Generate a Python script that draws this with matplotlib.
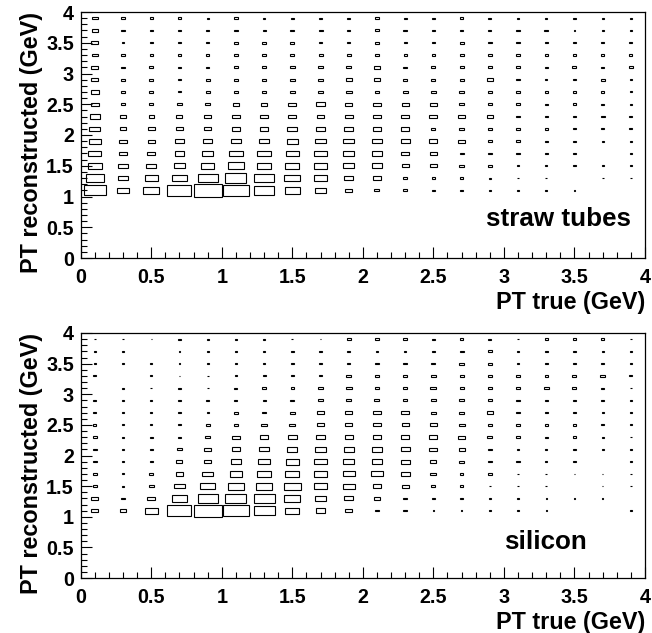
import numpy as np
import matplotlib
matplotlib.use("Agg")
import matplotlib.pyplot as plt
from matplotlib.patches import Rectangle
from matplotlib.ticker import MultipleLocator

plt.rcParams['font.family'] = ['Liberation Sans', 'DejaVu Sans']
plt.rcParams['font.weight'] = 'bold'

# bin edges (x: PT true, y: PT reconstructed)
x_edges = np.linspace(0.0, 4.0, 21)
y_edges = np.linspace(1.0, 4.0, 16)

# relative bin contents (box size fraction), rows from y=1.1 (bottom) to y=3.9 (top)
straw = [
    [0.80, 0.45, 0.56, 0.85, 1.00, 0.94, 0.73, 0.52, 0.38, 0.24, 0.18, 0.14, 0.08, 0.08, 0.06, 0.08, 0.06, 0.05, 0.00, 0.00],
    [0.65, 0.35, 0.47, 0.56, 0.71, 0.75, 0.71, 0.56, 0.45, 0.33, 0.30, 0.16, 0.12, 0.10, 0.08, 0.06, 0.06, 0.00, 0.06, 0.06],
    [0.49, 0.33, 0.35, 0.42, 0.47, 0.54, 0.49, 0.49, 0.47, 0.38, 0.38, 0.26, 0.24, 0.16, 0.14, 0.08, 0.08, 0.08, 0.06, 0.05],
    [0.47, 0.31, 0.28, 0.35, 0.40, 0.47, 0.47, 0.46, 0.45, 0.40, 0.36, 0.28, 0.24, 0.14, 0.14, 0.12, 0.10, 0.08, 0.00, 0.06],
    [0.42, 0.26, 0.24, 0.31, 0.31, 0.35, 0.38, 0.40, 0.38, 0.38, 0.33, 0.33, 0.28, 0.24, 0.16, 0.16, 0.10, 0.08, 0.06, 0.06],
    [0.38, 0.24, 0.24, 0.24, 0.26, 0.31, 0.31, 0.35, 0.31, 0.33, 0.30, 0.30, 0.14, 0.16, 0.16, 0.12, 0.12, 0.10, 0.10, 0.10],
    [0.35, 0.21, 0.19, 0.21, 0.24, 0.26, 0.28, 0.28, 0.28, 0.28, 0.30, 0.30, 0.28, 0.22, 0.20, 0.14, 0.12, 0.10, 0.14, 0.10],
    [0.28, 0.16, 0.16, 0.16, 0.16, 0.21, 0.21, 0.28, 0.31, 0.26, 0.28, 0.26, 0.26, 0.20, 0.15, 0.15, 0.11, 0.13, 0.11, 0.09],
    [0.30, 0.15, 0.15, 0.08, 0.13, 0.16, 0.16, 0.16, 0.16, 0.20, 0.16, 0.18, 0.18, 0.16, 0.14, 0.14, 0.10, 0.10, 0.10, 0.08],
    [0.26, 0.14, 0.14, 0.10, 0.14, 0.14, 0.14, 0.16, 0.16, 0.21, 0.20, 0.14, 0.14, 0.14, 0.22, 0.12, 0.08, 0.12, 0.14, 0.06],
    [0.26, 0.13, 0.16, 0.12, 0.12, 0.14, 0.14, 0.16, 0.18, 0.18, 0.22, 0.12, 0.14, 0.14, 0.14, 0.14, 0.12, 0.14, 0.10, 0.14],
    [0.22, 0.14, 0.09, 0.12, 0.12, 0.12, 0.12, 0.14, 0.14, 0.14, 0.14, 0.10, 0.12, 0.14, 0.14, 0.14, 0.12, 0.12, 0.10, 0.10],
    [0.24, 0.10, 0.12, 0.12, 0.12, 0.14, 0.14, 0.14, 0.12, 0.10, 0.14, 0.10, 0.12, 0.14, 0.12, 0.12, 0.10, 0.10, 0.10, 0.10],
    [0.22, 0.12, 0.12, 0.10, 0.10, 0.12, 0.10, 0.14, 0.14, 0.12, 0.16, 0.12, 0.12, 0.12, 0.10, 0.14, 0.14, 0.06, 0.06, 0.08],
    [0.20, 0.12, 0.12, 0.12, 0.08, 0.12, 0.08, 0.10, 0.10, 0.10, 0.12, 0.10, 0.10, 0.12, 0.10, 0.08, 0.08, 0.08, 0.08, 0.08],
]

silicon = [
    [0.26, 0.19, 0.47, 0.85, 1.00, 0.94, 0.75, 0.49, 0.35, 0.24, 0.14, 0.12, 0.06, 0.06, 0.05, 0.05, 0.05, 0.00, 0.00, 0.05],
    [0.26, 0.12, 0.28, 0.54, 0.71, 0.75, 0.75, 0.56, 0.42, 0.33, 0.21, 0.14, 0.12, 0.12, 0.05, 0.06, 0.05, 0.05, 0.05, 0.00],
    [0.16, 0.10, 0.19, 0.38, 0.52, 0.56, 0.59, 0.59, 0.49, 0.42, 0.31, 0.26, 0.14, 0.12, 0.06, 0.06, 0.06, 0.00, 0.05, 0.05],
    [0.16, 0.10, 0.14, 0.28, 0.38, 0.45, 0.49, 0.49, 0.49, 0.42, 0.40, 0.31, 0.21, 0.12, 0.12, 0.06, 0.06, 0.06, 0.05, 0.06],
    [0.14, 0.08, 0.10, 0.21, 0.26, 0.38, 0.40, 0.47, 0.45, 0.40, 0.38, 0.33, 0.21, 0.18, 0.14, 0.12, 0.08, 0.08, 0.00, 0.06],
    [0.14, 0.10, 0.12, 0.16, 0.26, 0.31, 0.33, 0.35, 0.38, 0.35, 0.35, 0.31, 0.28, 0.21, 0.14, 0.10, 0.08, 0.08, 0.08, 0.05],
    [0.12, 0.08, 0.10, 0.10, 0.18, 0.26, 0.28, 0.31, 0.31, 0.28, 0.28, 0.28, 0.28, 0.26, 0.18, 0.16, 0.10, 0.12, 0.08, 0.06],
    [0.11, 0.08, 0.08, 0.10, 0.14, 0.16, 0.21, 0.21, 0.24, 0.26, 0.26, 0.24, 0.24, 0.21, 0.16, 0.12, 0.12, 0.11, 0.09, 0.07],
    [0.10, 0.08, 0.08, 0.08, 0.08, 0.16, 0.12, 0.18, 0.24, 0.24, 0.26, 0.28, 0.16, 0.16, 0.20, 0.12, 0.12, 0.12, 0.08, 0.06],
    [0.10, 0.08, 0.08, 0.08, 0.12, 0.10, 0.10, 0.14, 0.16, 0.16, 0.18, 0.16, 0.16, 0.16, 0.16, 0.12, 0.12, 0.12, 0.10, 0.06],
    [0.00, 0.08, 0.06, 0.08, 0.06, 0.10, 0.12, 0.12, 0.18, 0.20, 0.14, 0.16, 0.21, 0.14, 0.14, 0.14, 0.16, 0.14, 0.10, 0.06],
    [0.10, 0.00, 0.08, 0.05, 0.06, 0.08, 0.10, 0.10, 0.10, 0.16, 0.12, 0.14, 0.20, 0.14, 0.14, 0.12, 0.12, 0.14, 0.16, 0.10],
    [0.05, 0.06, 0.06, 0.05, 0.08, 0.08, 0.08, 0.12, 0.10, 0.10, 0.14, 0.12, 0.14, 0.16, 0.16, 0.10, 0.10, 0.10, 0.10, 0.08],
    [0.08, 0.06, 0.00, 0.06, 0.08, 0.05, 0.08, 0.12, 0.10, 0.10, 0.08, 0.08, 0.12, 0.14, 0.16, 0.08, 0.12, 0.08, 0.08, 0.06],
    [0.06, 0.05, 0.05, 0.08, 0.08, 0.08, 0.08, 0.06, 0.06, 0.14, 0.12, 0.16, 0.10, 0.12, 0.10, 0.06, 0.12, 0.12, 0.12, 0.06],
]

panel_labels = ["straw tubes", "silicon"]
x_label = "PT true (GeV)"
y_label = "PT reconstructed (GeV)"
x_ticks = [0, 0.5, 1, 1.5, 2, 2.5, 3, 3.5, 4]
x_ticklabels = ["0", "0.5", "1", "1.5", "2", "2.5", "3", "3.5", "4"]
y_ticks = [0, 0.5, 1, 1.5, 2, 2.5, 3, 3.5, 4]
y_ticklabels = ["0", "0.5", "1", "1.5", "2", "2.5", "3", "3.5", "4"]

W, H = 652, 633
fig = plt.figure(figsize=(W / 100, H / 100), dpi=100)

def px_axes(l, t, r, b):
    return fig.add_axes([l / W, 1 - b / H, (r - l) / W, (b - t) / H])

axes = [px_axes(80.7, 12, 645, 258), px_axes(80.7, 333, 645, 578)]
label_pos = [(2.87, 0.52), (3.0, 0.47)]

xc = 0.5 * (x_edges[:-1] + x_edges[1:])
yc = 0.5 * (y_edges[:-1] + y_edges[1:])
bw = x_edges[1] - x_edges[0]
bh = y_edges[1] - y_edges[0]

for ax, data, lab, lp in zip(axes, [straw, silicon], panel_labels, label_pos):
    arr = np.array(data)
    vmax = arr.max()
    for j, y0 in enumerate(yc):
        for i, x0 in enumerate(xc):
            v = arr[j, i]
            if v <= 0:
                continue
            f = v / vmax
            w = f * bw
            h = f * bh
            ax.add_patch(Rectangle((x0 - w / 2, y0 - h / 2), w, h, fill=False,
                                   edgecolor='black', linewidth=0.8))
    ax.set_xlim(0, 4)
    ax.set_ylim(0, 4)
    ax.set_xticks(x_ticks)
    ax.set_xticklabels(x_ticklabels)
    ax.set_yticks(y_ticks)
    ax.set_yticklabels(y_ticklabels)
    ax.xaxis.set_minor_locator(MultipleLocator(0.1))
    ax.yaxis.set_minor_locator(MultipleLocator(0.1))
    ax.tick_params(which='both', direction='in', top=False, right=False, width=0.8)
    ax.tick_params(which='major', length=8, labelsize=14.2, pad=7)
    ax.tick_params(which='minor', length=4)
    ax.tick_params(axis='y', which='major', pad=5)
    for lbl in ax.get_xticklabels() + ax.get_yticklabels():
        lbl.set_fontweight('bold')
    for s in ax.spines.values():
        s.set_linewidth(0.9)
    ax.text(lp[0], lp[1], lab, fontsize=18.7, fontweight='bold', ha='left', va='baseline')
    ax.set_xlabel(x_label, fontsize=16.8, fontweight='bold', loc='right', labelpad=3)
    ax.set_ylabel(y_label, fontsize=16.8, fontweight='bold', loc='top', labelpad=2)

fig.savefig("out.png", dpi=100)
